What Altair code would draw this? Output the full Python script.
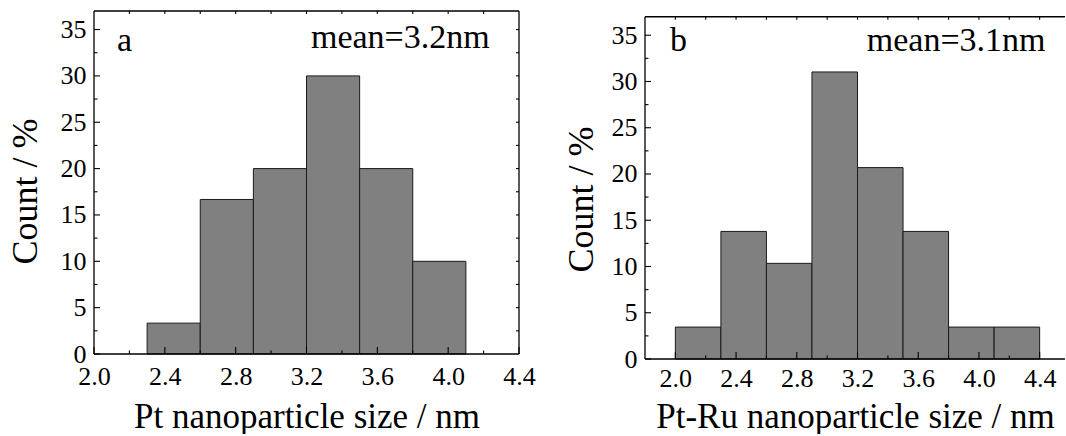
import altair as alt
import pandas as pd

# Particle size distributions: percent of counted particles in each 0.3 nm bin
EDGES_A = [2.3, 2.6, 2.9, 3.2, 3.5, 3.8, 4.1]
PCT_A = [3.33, 16.67, 20.0, 30.0, 20.0, 10.0]

EDGES_B = [2.0, 2.3, 2.6, 2.9, 3.2, 3.5, 3.8, 4.1, 4.4]
PCT_B = [3.45, 13.79, 10.34, 31.03, 20.69, 13.79, 3.45, 3.45]

# Tick positions
X_MAJOR = [2.0, 2.4, 2.8, 3.2, 3.6, 4.0, 4.4]
X_MINOR = [2.2, 2.6, 3.0, 3.4, 3.8, 4.2]
X_TOP_A = [2.2, 2.4, 2.6, 2.8, 3.0, 3.2, 3.4, 3.6, 3.8, 4.0, 4.2]
X_TOP_B = [2.0, 2.2, 2.4, 2.6, 2.8, 3.0, 3.2, 3.4, 3.6, 3.8, 4.0, 4.2, 4.4]
Y_MAJOR = [0, 5, 10, 15, 20, 25, 30, 35]
Y_MINOR = [2.5, 7.5, 12.5, 17.5, 22.5, 27.5, 32.5]
Y_RIGHT = [2.5, 5, 7.5, 10, 12.5, 15, 17.5, 20, 22.5, 25, 27.5, 30, 32.5, 35]

FONT = "Liberation Serif"
INK = "black"


def one_row(**kw):
    return pd.DataFrame({k: [v] for k, v in kw.items()} or {"_": [0]})


def panel(edges, pct, xdom, ydom, frame_top, width, height, x_top, right_side,
          letter, letter_pos, mean_text, mean_pos, xtitle, x_title_y,
          y_title_x, y_title_y, x_label_pad):
    xs = alt.Scale(domain=xdom, nice=False, zero=False)
    ys = alt.Scale(domain=ydom, nice=False, zero=False)
    x0, x1 = xdom

    x_axis = alt.Axis(
        values=X_MAJOR, format=".1f", title=xtitle, grid=False, ticks=False,
        tickSize=0, domain=False, labelFont=FONT, labelFontSize=26,
        labelColor=INK, labelPadding=x_label_pad, labelFlush=False,
        labelOverlap=False, titleFont=FONT, titleFontSize=35,
        titleFontWeight="normal", titleColor=INK, titleY=x_title_y,
        titleBaseline="alphabetic",
    )
    y_axis = alt.Axis(
        values=Y_MAJOR, format="d", title="Count / %", grid=False, ticks=False,
        tickSize=0, domain=False, labelFont=FONT, labelFontSize=26,
        labelColor=INK, labelPadding=8, labelFlush=False, labelOverlap=False,
        titleFont=FONT, titleFontSize=36, titleFontWeight="normal",
        titleColor=INK, titleX=y_title_x, titleY=y_title_y,
        titleBaseline="alphabetic",
    )

    # every layer shares the same scale and axis definitions
    def XD(v):
        return alt.XDatum(datum=v, type="quantitative", scale=xs, axis=x_axis)

    def YD(v):
        return alt.YDatum(datum=v, type="quantitative", scale=ys, axis=y_axis)

    def XF(f):
        return alt.X(f, type="quantitative", scale=xs, axis=x_axis)

    def YF(f):
        return alt.Y(f, type="quantitative", scale=ys, axis=y_axis)

    bins = pd.DataFrame({"lo": edges[:-1], "hi": edges[1:], "pct": pct})
    bars = alt.Chart(bins).mark_rect(
        fill="#808080", stroke="#1a1a1a", strokeWidth=1
    ).encode(x=XF("lo"), x2="hi:Q", y=YF("pct"), y2=alt.datum(0))

    def xticks(values, base, length):
        return alt.Chart(pd.DataFrame({"v": values})).mark_rule(
            color=INK, strokeWidth=1.1, y2Offset=length
        ).encode(x=XF("v"), y=YD(base), y2=alt.datum(base))

    def yticks(values, base, length):
        return alt.Chart(pd.DataFrame({"v": values})).mark_rule(
            color=INK, strokeWidth=1.1, x2Offset=length
        ).encode(y=YF("v"), x=XD(base), x2=alt.datum(base))

    layers = [
        bars,
        xticks(X_MAJOR, 0, -7),
        xticks(X_MINOR, 0, -3.5),
        xticks(x_top, frame_top, 3),
        yticks(Y_MAJOR, x0, 6),
        yticks(Y_MINOR, x0, 3.5),
    ]

    def hline(yv):
        return alt.Chart(one_row()).mark_rule(color=INK, strokeWidth=1.3).encode(
            x=XD(x0), x2=alt.datum(x1), y=YD(yv)
        )

    def vline(xv):
        return alt.Chart(one_row()).mark_rule(color=INK, strokeWidth=1.3).encode(
            x=XD(xv), y=YD(0), y2=alt.datum(frame_top)
        )

    layers += [hline(0), hline(frame_top), vline(x0)]
    if right_side:
        layers += [yticks(Y_RIGHT, x1, -3), vline(x1)]

    def label(text, pos, size, align):
        return alt.Chart(one_row(t=text)).mark_text(
            font=FONT, fontSize=size, align=align, baseline="alphabetic",
            color=INK,
        ).encode(x=XD(pos[0]), y=YD(pos[1]), text="t:N")

    layers += [
        label(letter, letter_pos, 34, "left"),
        label(mean_text, mean_pos, 34, "center"),
    ]

    return alt.layer(*layers).properties(width=width, height=height)


left = panel(
    EDGES_A, PCT_A, [2.0, 4.4], [0, 37], 37, 425, 343, X_TOP_A, True,
    "a", (2.13, 32.7), "mean=3.2nm", (3.73, 33.0),
    "Pt nanoparticle size / nm", 73, -57.5, 180, 9,
)

# the right-hand panel runs on past the window edge, so its right side is open
right = panel(
    EDGES_B, PCT_B, [1.8, 4.567], [0, 37.62], 37, 420, 348, X_TOP_B, False,
    "b", (1.965, 33.3), "mean=3.1nm", (3.85, 33.3),
    "Pt-Ru nanoparticle size / nm", 68, -52.5, 188, 6,
)

chart = alt.hconcat(left, right, spacing=126, bounds="flush").properties(
    padding={"left": 7, "top": 10, "right": 0, "bottom": 0},
    autosize=alt.AutoSizeParams(type="pad"),
).configure_view(strokeOpacity=0)

chart.save("out.html", embed_options={"renderer": "svg", "actions": False})
